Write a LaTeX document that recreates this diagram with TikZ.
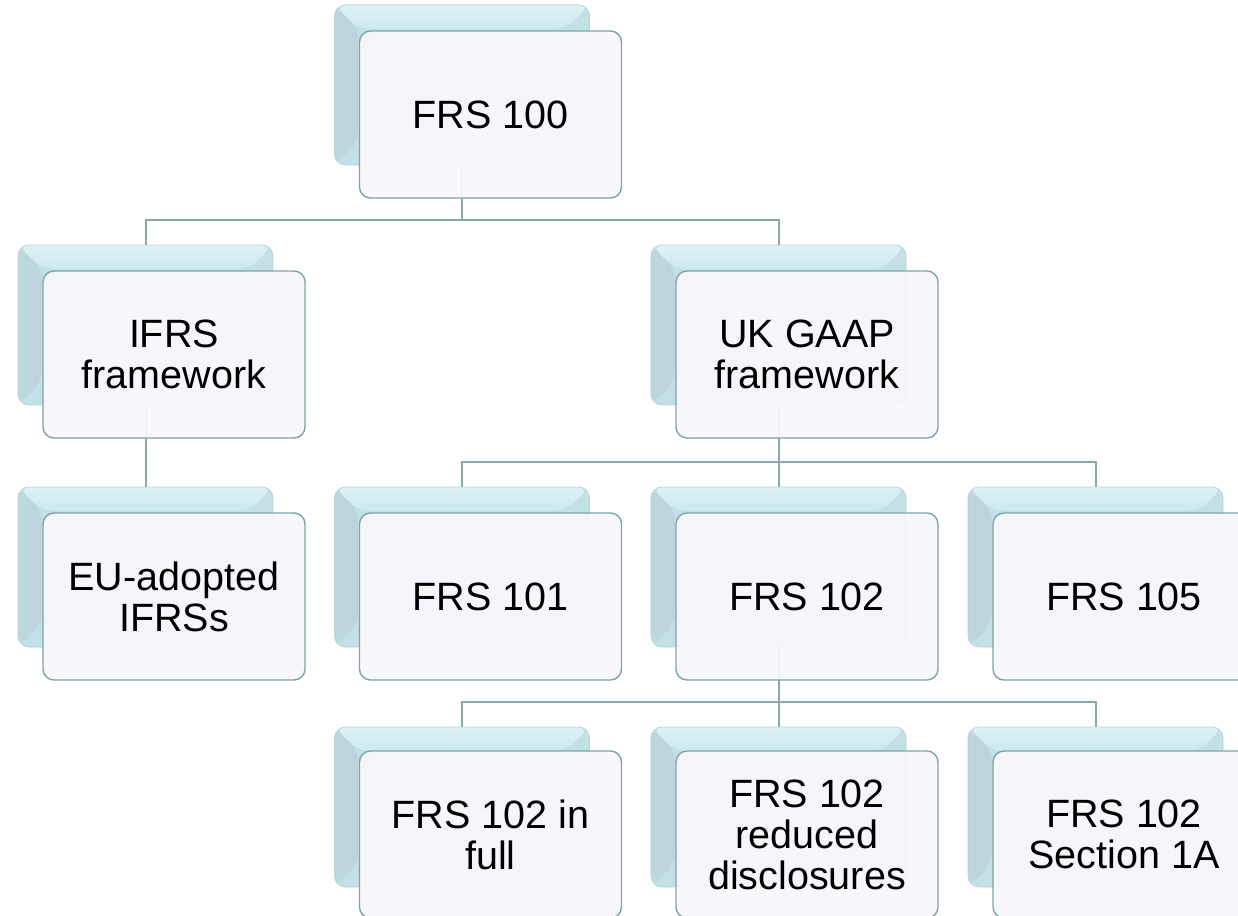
\documentclass[tikz,border=0pt]{standalone}
\usepackage{fontspec}
\setmainfont{Liberation Sans}
\usetikzlibrary{calc}

\definecolor{linkc}{RGB}{138,170,170}
\definecolor{backmid}{RGB}{196,224,231}
\definecolor{backtoplight}{RGB}{222,242,246}
\definecolor{backtop}{RGB}{205,232,238}
\definecolor{backleftlight}{RGB}{190,214,220}
\definecolor{backleft}{RGB}{165,193,201}
\definecolor{backedge}{RGB}{184,211,218}
\definecolor{frontfill}{RGB}{248,248,252}
\definecolor{frontline}{RGB}{126,163,168}

\tikzset{
  backbox/.style={rectangle, rounded corners=11pt, minimum width=255pt,
    minimum height=160pt, inner sep=0pt, outer sep=0pt, anchor=north west,
    draw=backedge, line width=0.8pt, fill=backmid,
    path picture={
      \shade[left color=backleftlight, right color=backleft]
        (path picture bounding box.north west) -- ++(24pt,-24pt)
        -- ($(path picture bounding box.south west)+(24pt,24pt)$)
        -- (path picture bounding box.south west) -- cycle;
      \shade[top color=backtoplight, bottom color=backtop]
        (path picture bounding box.north west) -- ++(24pt,-24pt)
        -- ($(path picture bounding box.north east)+(-24pt,-24pt)$)
        -- (path picture bounding box.north east) -- cycle;
    }},
  frontbox/.style={rectangle, rounded corners=11pt, minimum width=262pt,
    minimum height=167pt, inner sep=4pt, outer sep=0pt, anchor=north west,
    draw=frontline, line width=1.4pt, fill=frontfill, fill opacity=0.93,
    text opacity=1, align=center, font=\fontsize{39.5}{41}\selectfont},
  link/.style={draw=linkc, line width=2pt},
}

\begin{document}
\begin{tikzpicture}[x=1pt,y=-1pt]
\useasboundingbox (0,0) rectangle (1238,915);
\clip (0,0) rectangle (1238,915);
\fill[white] (0,0) rectangle (1238,915);

% back plates
\node[backbox] (b100)  at (334.5,5)   {};
\node[backbox] (bifrs) at (18,245)    {};
\node[backbox] (bgaap) at (651,245)   {};
\node[backbox] (beu)   at (18,487)    {};
\node[backbox] (b101)  at (334.5,487) {};
\node[backbox] (b102)  at (651,487)   {};
\node[backbox] (b105)  at (968,487)   {};
\node[backbox] (bfull) at (334.5,727) {};
\node[backbox] (bred)  at (651,727)   {};
\node[backbox] (bsec)  at (968,727)   {};

% connectors
\draw[link] (bifrs.north) -- ++(0,-25) -| (b100.south);
\draw[link] (bgaap.north) -- ++(0,-25) -| (b100.south);
\draw[link] (bifrs.south) -- (beu.north);
\draw[link] (b101.north) -- ++(0,-25) -| (bgaap.south);
\draw[link] (b102.north) -- ++(0,-25) -| (bgaap.south);
\draw[link] (b105.north) -- ++(0,-25) -| (bgaap.south);
\draw[link] (bfull.north) -- ++(0,-25) -| (b102.south);
\draw[link] (bred.north) -- ++(0,-25) -| (b102.south);
\draw[link] (bsec.north) -- ++(0,-25) -| (b102.south);

% front plates with labels
\node[frontbox] (f100)  at (359.5,31)  {FRS 100};
\node[frontbox] (fifrs) at (43,271)    {IFRS\\framework};
\node[frontbox] (fgaap) at (676,271)   {UK GAAP\\framework};
\node[frontbox] (feu)   at (43,513)    {EU-adopted\\IFRSs};
\node[frontbox] (f101)  at (359.5,513) {FRS 101};
\node[frontbox] (f102)  at (676,513)   {FRS 102};
\node[frontbox] (f105)  at (993,513)   {FRS 105};
\node[frontbox] (ffull) at (359.5,751) {FRS 102 in\\full};
\node[frontbox] (fred)  at (676,751)   {FRS 102\\reduced\\disclosures};
\node[frontbox] (fsec)  at (993,751)   {FRS 102\\Section 1A};
\end{tikzpicture}
\end{document}
